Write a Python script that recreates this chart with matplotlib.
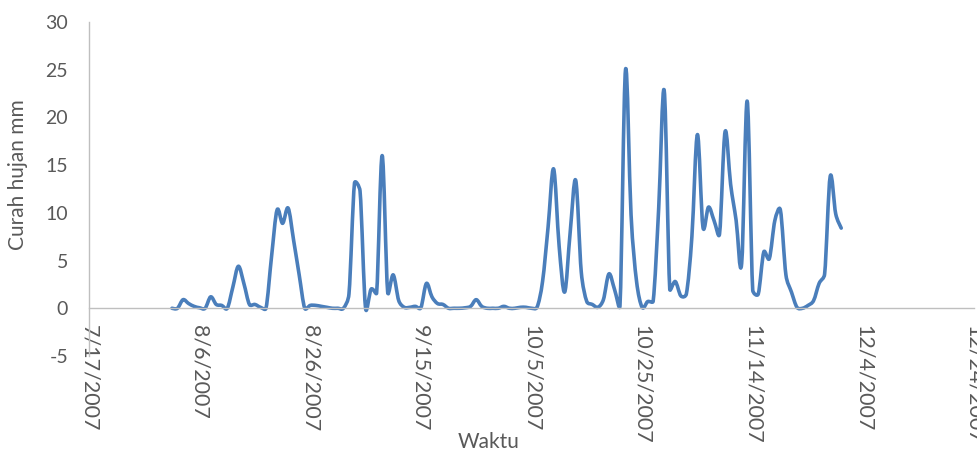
import matplotlib
matplotlib.use('Agg')
import matplotlib.pyplot as plt
import matplotlib.dates as mdates
from matplotlib.path import Path
from matplotlib.patches import PathPatch
from matplotlib.ticker import FuncFormatter
import numpy as np
import pandas as pd

plt.rcParams['font.family'] = ['Lato', 'DejaVu Sans']
plt.rcParams['axes.unicode_minus'] = False

# curah hujan harian (mm), mulai 1 Agustus 2007
start_date = '2007-08-01'
rain_mm = [
    0.0, 0.0, 0.9, 0.5, 0.2, 0.05, 0.0, 1.2, 0.4, 0.3,
    0.0, 2.2, 4.4, 2.6, 0.4, 0.4, 0.1, 0.0, 5.4, 10.3,
    8.9, 10.5, 7.1, 3.5, 0.0, 0.3, 0.3, 0.2, 0.1, 0.0,
    0.0, 0.0, 1.5, 13.1, 12.3, 0.0, 2.0, 1.6, 16.0, 1.7,
    3.5, 0.8, 0.1, 0.1, 0.2, 0.05, 2.6, 1.2, 0.5, 0.4,
    0.0, 0.0, 0.0, 0.05, 0.2, 0.9, 0.2, 0.0, 0.0, 0.0,
    0.2, 0.0, 0.0, 0.1, 0.1, 0.0, 0.1, 2.8, 8.5, 14.6,
    6.5, 1.7, 8.0, 13.4, 3.8, 0.7, 0.4, 0.1, 0.9, 3.6,
    2.0, 0.3, 25.0, 9.8, 2.8, 0.1, 0.7, 0.75, 10.5, 22.8,
    2.0, 2.8, 1.3, 1.5, 7.5, 18.2, 8.5, 10.6, 9.2, 7.8,
    18.5, 13.0, 9.2, 4.7, 21.7, 1.9, 1.5, 5.9, 5.2, 9.2,
    10.3, 3.5, 1.7, 0.1, 0.0, 0.3, 0.8, 2.6, 3.6, 13.8,
    9.9, 8.4,
]
dates = pd.date_range(start_date, periods=len(rain_mm), freq='D')

x_start, x_end = '2007-07-17', '2007-12-24'
y_ticks = [-5, 0, 5, 10, 15, 20, 25, 30]

line_color = '#4A7EBB'
axis_color = '#BFBFBF'
text_color = '#595959'

fig = plt.figure(figsize=(9.77, 4.54), dpi=100)
ax = fig.add_axes([0.0911, 0.2159, 0.9058, 0.7357])
ax.set_xlim(pd.Timestamp(x_start), pd.Timestamp(x_end))
ax.set_ylim(-5, 30)


def excel_smooth_path(ax, xs, ys):
    # kurva Bezier seperti "smoothed line" Excel, dihitung di ruang piksel
    pts = ax.transData.transform(np.column_stack([xs, ys]))
    n = len(pts)
    verts = [pts[0]]
    codes = [Path.MOVETO]
    for i in range(n - 1):
        p0 = pts[max(i - 1, 0)]
        p1 = pts[i]
        p2 = pts[i + 1]
        p3 = pts[min(i + 2, n - 1)]
        d02 = np.hypot(*(p2 - p0))
        d12 = np.hypot(*(p2 - p1))
        d13 = np.hypot(*(p3 - p1))
        f0 = 1 / 6 if d02 / 6 < d12 / 2 else (d12 / d02 / 2 if d02 > 0 else 0)
        f3 = 1 / 6 if d13 / 6 < d12 / 2 else (d12 / d13 / 2 if d13 > 0 else 0)
        verts += [p1 + (p2 - p0) * f0, p2 - (p3 - p1) * f3, p2]
        codes += [Path.CURVE4] * 3
    verts = ax.transData.inverted().transform(np.array(verts))
    return Path(verts, codes)


xs = mdates.date2num(dates.to_pydatetime())
ys = np.array(rain_mm, dtype=float)
ax.add_patch(PathPatch(excel_smooth_path(ax, xs, ys), fill=False,
                       edgecolor=line_color, lw=2.6,
                       capstyle='round', joinstyle='round'))

ax.set_yticks(y_ticks)
ax.set_xticks(pd.date_range(x_start, x_end, freq='20D'))
ax.xaxis.set_major_formatter(FuncFormatter(
    lambda v, pos: (lambda d: f'{d.month}/{d.day}/{d.year}')(mdates.num2date(v))))

for s in ['top', 'right']:
    ax.spines[s].set_visible(False)
ax.spines['bottom'].set_position(('data', 0))
ax.spines['bottom'].set_color(axis_color)
ax.spines['left'].set_color(axis_color)
ax.spines['bottom'].set_linewidth(1.0)
ax.spines['left'].set_linewidth(1.0)

ax.tick_params(axis='y', length=0, pad=15, labelsize=14, labelcolor=text_color)
ax.tick_params(axis='x', length=0, pad=12, labelsize=15.5, labelcolor=text_color)
for lbl in ax.get_xticklabels():
    lbl.set_rotation(270)

ax.set_ylabel('Curah hujan mm', fontsize=15, color=text_color)
ax.yaxis.set_label_coords(-0.069, 0.542)
ax.set_xlabel('Waktu', fontsize=15, color=text_color)
ax.xaxis.set_label_coords(0.451, -0.228)

fig.savefig('out.png', dpi=100)
